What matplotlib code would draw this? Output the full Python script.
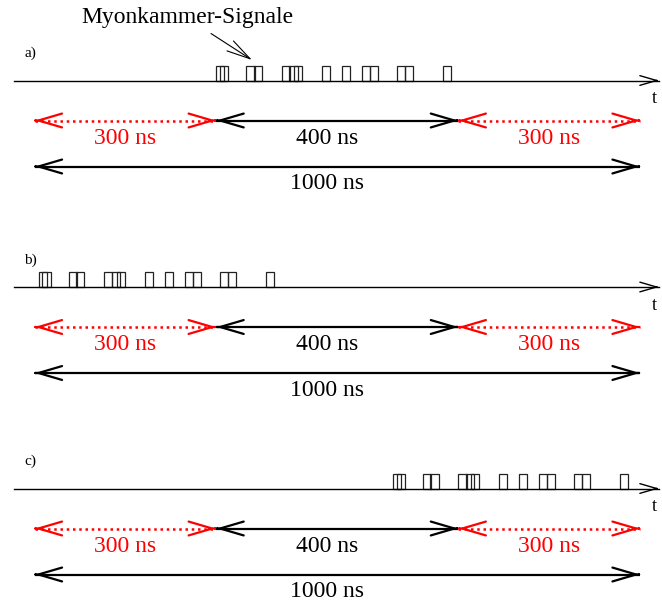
import matplotlib

matplotlib.use("Agg")
import matplotlib.pyplot as plt
from matplotlib.patches import Rectangle, FancyArrowPatch

# Time windows (ns): pre-window, signal window, post-window
windows = [300, 400, 300]
window_colors = ["red", "black", "red"]
window_labels = ["300 ns", "400 ns", "300 ns"]
total_window = 1000
total_label = "1000 ns"

# Start times (ns) of the muon chamber hits, and hit length
pulse_times = [300, 306, 350, 362, 408, 421, 429, 475, 508, 541, 554, 599, 612, 675]
pulse_width = 13.5

# Three cases: hits shifted relative to the trigger
row_names = ["a)", "b)", "c)"]
row_shifts = [0, -293, 292]
row_base = [80.5, 287, 488.5]  # baseline height of each time axis

# pixel scale of the drawing
px_per_ns = 0.6055
x0_px = 34.5

fig = plt.figure(figsize=(6.62, 6.06), dpi=100)
ax = fig.add_axes([0, 0, 1, 1])
ax.set_xlim(-x0_px / px_per_ns, (662 - x0_px) / px_per_ns)
ax.set_ylim(606, 0)
ax.axis("off")

serif = "Liberation Serif"


def px(dx):
    # horizontal pixel distance in ns
    return dx / px_per_ns


def head(xa, xb, y, color, lw=1.6, hl=17, hw=5):
    # open arrow head with its tip at xb
    a = FancyArrowPatch((xa, y), (xb, y),
                        arrowstyle=f"->,head_length={hl},head_width={hw}",
                        mutation_scale=1, shrinkA=0, shrinkB=0,
                        color=color, lw=lw)
    ax.add_patch(a)


def span(start, end, y, color, dotted=False):
    ls = (0, (1, 1.5)) if dotted else "-"
    ax.plot([start, end], [y, y], color=color, lw=1.8 if dotted else 1.6,
            ls=ls, solid_capstyle="butt")
    head(start + 2, start, y, color)
    head(end - 2, end, y, color)


for name, shift, y0 in zip(row_names, row_shifts, row_base):
    # time axis
    ax.plot([px(14 - x0_px), px(659 - x0_px)], [y0, y0], color="black", lw=1.0)
    head(px(655 - x0_px), px(659 - x0_px), y0, "black", lw=1.0, hl=12, hw=3.5)
    ax.text(px(652 - x0_px), y0 + 18, "t", fontsize=13, family=serif,
            ha="left", va="center")
    ax.text(px(24 - x0_px), y0 - 27, name, fontsize=11, family=serif,
            ha="left", va="center")

    # chamber hits
    for t in pulse_times:
        ax.add_patch(Rectangle((t + shift, y0), pulse_width, -15,
                               fill=False, ec="#222222", lw=0.9))

    # window arrows
    ya = y0 + 40
    start = 0
    for w, c, lab in zip(windows, window_colors, window_labels):
        end = start + w
        span(start, end, ya, c, dotted=(c == "red"))
        xt = (start + end) / 2 if c == "red" else 483
        ax.text(xt, ya + 18, lab, color=c, fontsize=17, family=serif,
                ha="center", va="center")
        start = end

    yt = y0 + 86
    span(0, total_window, yt, "black")
    ax.text(483, yt + 17, total_label, color="black", fontsize=17,
            family=serif, ha="center", va="center")

# annotation pointing at the hits
ax.annotate("Myonkammer-Signale", xy=(px(252 - x0_px), 60),
            xytext=(px(187 - x0_px), 18), fontsize=17, family=serif,
            ha="center", va="center",
            arrowprops=dict(arrowstyle="->,head_length=1.0,head_width=0.25",
                            lw=0.8, color="black", shrinkA=3, shrinkB=0))

fig.savefig("out.png", dpi=100)
